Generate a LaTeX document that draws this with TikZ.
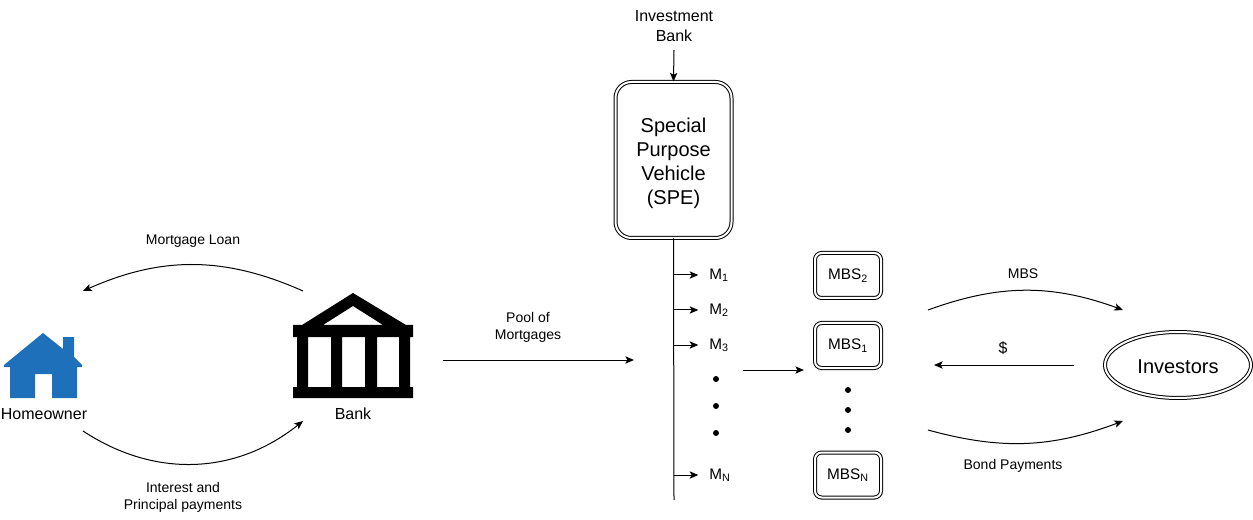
\documentclass[tikz,border=0pt]{standalone}
\usepackage{fontspec}
\setmainfont{Liberation Sans}
\usetikzlibrary{arrows.meta,positioning,shapes.geometric}
\definecolor{housecolor}{RGB}{31,112,186}

\begin{document}
\begin{tikzpicture}[
    x=0.75pt,
    y=-0.75pt,
    node distance=18pt,
    every node/.style={align=center, inner sep=0pt},
    small/.style={font=\fontsize{10.5}{12.75}\selectfont},
    medium/.style={font=\fontsize{12}{15}\selectfont},
    large/.style={font=\fontsize{15}{18}\selectfont},
    sub/.style={font=\fontsize{11.5}{13}\selectfont},
    dbl/.style={draw=black, line width=0.75pt, double=white, double distance=1.5pt},
    spvbox/.style={rectangle, rounded corners=12pt, dbl, large, minimum width=87pt, minimum height=117pt},
    mbsbox/.style={rectangle, rounded corners=5pt, dbl, sub, minimum width=49.5pt, minimum height=33.75pt},
    dot/.style={circle, fill=black, minimum size=4.5pt},
    arr/.style={-{Stealth[length=6.5pt, width=5.5pt, inset=1.5pt]}, line width=0.75pt},
    tap/.style={arr, shorten >=8pt}
  ]
    \useasboundingbox (0,0) rectangle (1253,520);

    % homeowner and bank
    \fill[housecolor] (43,333) -- (63,349) -- (63,337) -- (74,337) -- (74,357) -- (82,365) -- (82,367)
      -- (77,367) -- (77,398) -- (52,398) -- (52,374) -- (35,374) -- (35,398) -- (10,398) -- (10,367)
      -- (4,367) -- (4,365) -- cycle;
    \fill[black, even odd rule] (353,293) -- (406,325) -- (413,325) -- (413,337) -- (410,337) -- (410,387)
      -- (413,387) -- (413,398) -- (293,398) -- (293,387) -- (297,387) -- (297,337) -- (293,337) -- (293,325)
      -- (302,325) -- cycle
      (353,306) -- (383,325) -- (323,325) -- cycle
      (308,337) rectangle (331,387)
      (342,337) rectangle (365,387)
      (377,337) rectangle (399,387);
    \node[medium] (homeowner) at (44,414) {Homeowner};
    \node[medium] (bank) at (353,414) {Bank};
    \node[small] (loan) at (193,241) {Mortgage Loan};
    \node[small] (interest) at (183,497) {Interest and\\Principal payments};

    \coordinate (bankout) at (303,291);
    \coordinate (homein) at (83,291);
    \coordinate (homeout) at (83,431);
    \coordinate (bankin) at (303,421);
    \draw[arr] (bankout) to[bend right=24] (homein);
    \draw[arr] (homeout) to[bend right=36] (bankin);

    % pool of mortgages
    \node[small] (pool) at (528,327) {Pool of\\Mortgages};
    \coordinate (poolout) at (443,360);
    \coordinate (poolin) at (634,360);
    \draw[arr] (poolout) -- (poolin);

    % vehicle and its rail
    \node[spvbox] (spv) at (673.5,160) {\rule{0pt}{15.5pt}Special\\Purpose\\Vehicle\\(SPE)};
    \node[medium] (invbank) at (674,26) {Investment\\Bank};
    \coordinate (invout) at (674,50);
    \draw[arr] (invout) -- (spv.north);
    \coordinate (railend) at (674,500);
    \draw[line width=0.75pt] (spv.south) -- (railend);

    \node[sub, anchor=west] (m1) at (709,275) {M\textsubscript{1}};
    \node[sub, anchor=west] (m2) at (709,310) {M\textsubscript{2}};
    \node[sub, anchor=west] (m3) at (709,345) {M\textsubscript{3}};
    \node[sub, anchor=west] (mn) at (709,475) {M\textsubscript{N}};
    \draw[tap] (spv.south |- m1.west) -- (m1.west);
    \draw[tap] (spv.south |- m2.west) -- (m2.west);
    \draw[tap] (spv.south |- m3.west) -- (m3.west);
    \draw[tap] (spv.south |- mn.west) -- (mn.west);
    \node[dot] (ma) at (716,379) {};
    \node[dot] (mb) at (716,406) {};
    \node[dot] (mc) at (716,433) {};

    % securities
    \node[mbsbox] (mbstwo) at (848,275.5) {MBS\textsubscript{2}};
    \node[mbsbox, below=of mbstwo] (mbsone) {MBS\textsubscript{1}};
    \node[mbsbox] (mbsn) at (848,475) {MBS\textsubscript{N}};
    \node[dot] (sa) at (848,390) {};
    \node[dot] (sb) at (848,410) {};
    \node[dot] (sc) at (848,430) {};
    \coordinate (railout) at (743,370);
    \coordinate (mbsin) at (804,370);
    \draw[arr] (railout) -- (mbsin);

    % investors
    \node[ellipse, dbl, large, minimum width=109.5pt, minimum height=49.5pt] (investors) at (1178,365) {\rule{0pt}{13.5pt}Investors};
    \node[small] (mbslabel) at (1023,274) {MBS};
    \node[medium] (dollar) at (1003,348) {\$};
    \node[small] (bond) at (1013,466) {Bond Payments};

    \coordinate (mbsout) at (928,310);
    \coordinate (invin) at (1123,310);
    \coordinate (payout) at (1074,365);
    \coordinate (payin) at (934,365);
    \coordinate (bondout) at (928,430);
    \coordinate (bondin) at (1123,421);
    \draw[arr] (mbsout) to[bend left=20] (invin);
    \draw[arr] (payout) -- (payin);
    \draw[arr] (bondout) to[bend right=18] (bondin);
  \end{tikzpicture}
\end{document}
